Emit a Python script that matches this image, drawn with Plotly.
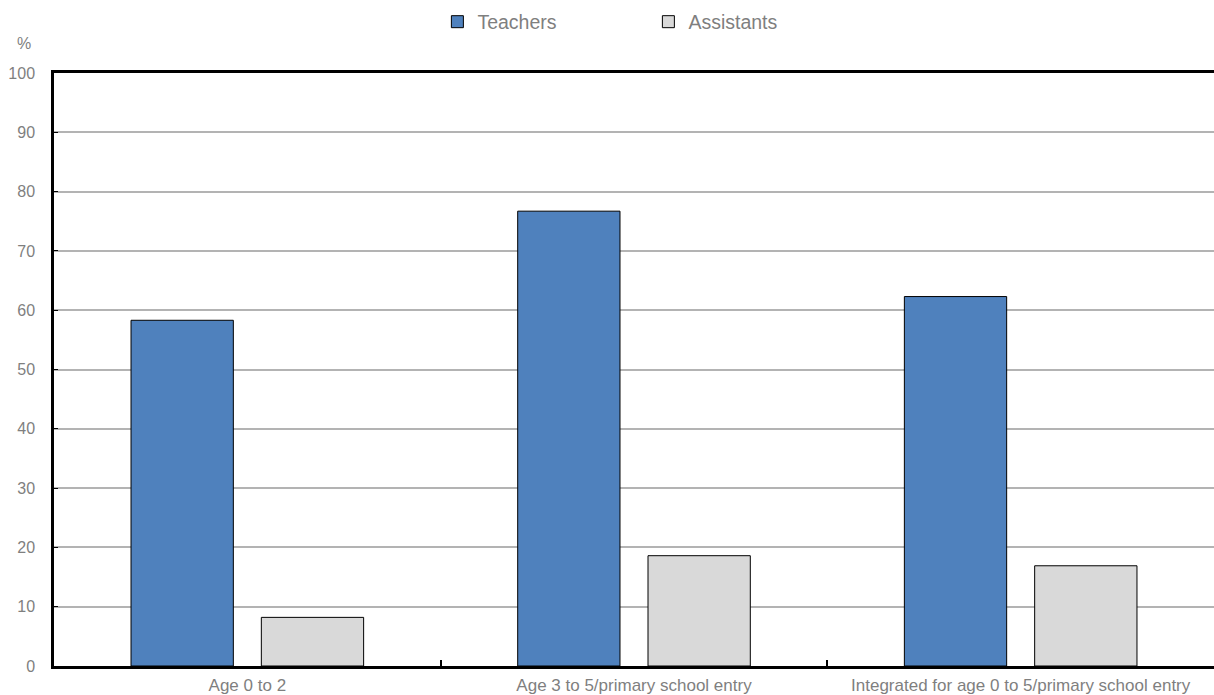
import plotly.graph_objects as go

categories = ["Age 0 to 2", "Age 3 to 5/primary school entry",
              "Integrated for age 0 to 5/primary school entry"]
teachers = [58.3, 76.7, 62.3]
assistants = [8.2, 18.6, 16.9]
y_ticks = [0, 10, 20, 30, 40, 50, 60, 70, 80, 90, 100]

FONT = "Liberation Sans, Arial, sans-serif"
GREY = "#7f7f7f"

fig = go.Figure()
fig.add_trace(go.Bar(x=categories, y=teachers, name="Teachers",
                     marker=dict(color="#4f81bd", line=dict(color="#000000", width=1))))
fig.add_trace(go.Bar(x=categories, y=assistants, name="Assistants",
                     marker=dict(color="#d9d9d9", line=dict(color="#000000", width=1))))

fig.update_layout(
    width=1214, height=695,
    margin=dict(l=54, r=0, t=73, b=29),
    plot_bgcolor="white", paper_bgcolor="white",
    barmode="group", bargap=0.326, bargroupgap=0.215,
    font=dict(family=FONT, color=GREY, size=16),
    showlegend=True,
    legend=dict(orientation="h", x=0.3305, xanchor="left", y=1.086, yanchor="middle",
                entrywidth=166, entrywidthmode="pixels",
                font=dict(family=FONT, size=19.5, color=GREY),
                itemwidth=30, bgcolor="rgba(0,0,0,0)"),
    annotations=[dict(text="%", xref="paper", yref="paper", x=-0.0258, y=1.050,
                      showarrow=False, xanchor="center", yanchor="middle",
                      font=dict(family=FONT, size=16, color=GREY))],
)
fig.update_xaxes(showline=True, linecolor="#000000", linewidth=2.5, mirror=True,
                 ticks="inside", tickson="boundaries", ticklen=6, tickcolor="#000000",
                 tickwidth=1.5, showgrid=False, ticklabelstandoff=2,
                 tickfont=dict(family=FONT, size=17, color=GREY))
fig.update_yaxes(range=[0, 100], tickvals=y_ticks, showline=True, linecolor="#000000",
                 linewidth=2.5, ticks="inside", ticklen=4, tickcolor="#000000",
                 showgrid=True, gridcolor="#b3b3b3", gridwidth=1.5, zeroline=False,
                 ticklabelstandoff=13,
                 tickfont=dict(family=FONT, size=16, color=GREY))

fig.write_html("out.html", config={"displayModeBar": False},
               post_script="document.body.style.margin='0';document.body.style.overflow='hidden';")
